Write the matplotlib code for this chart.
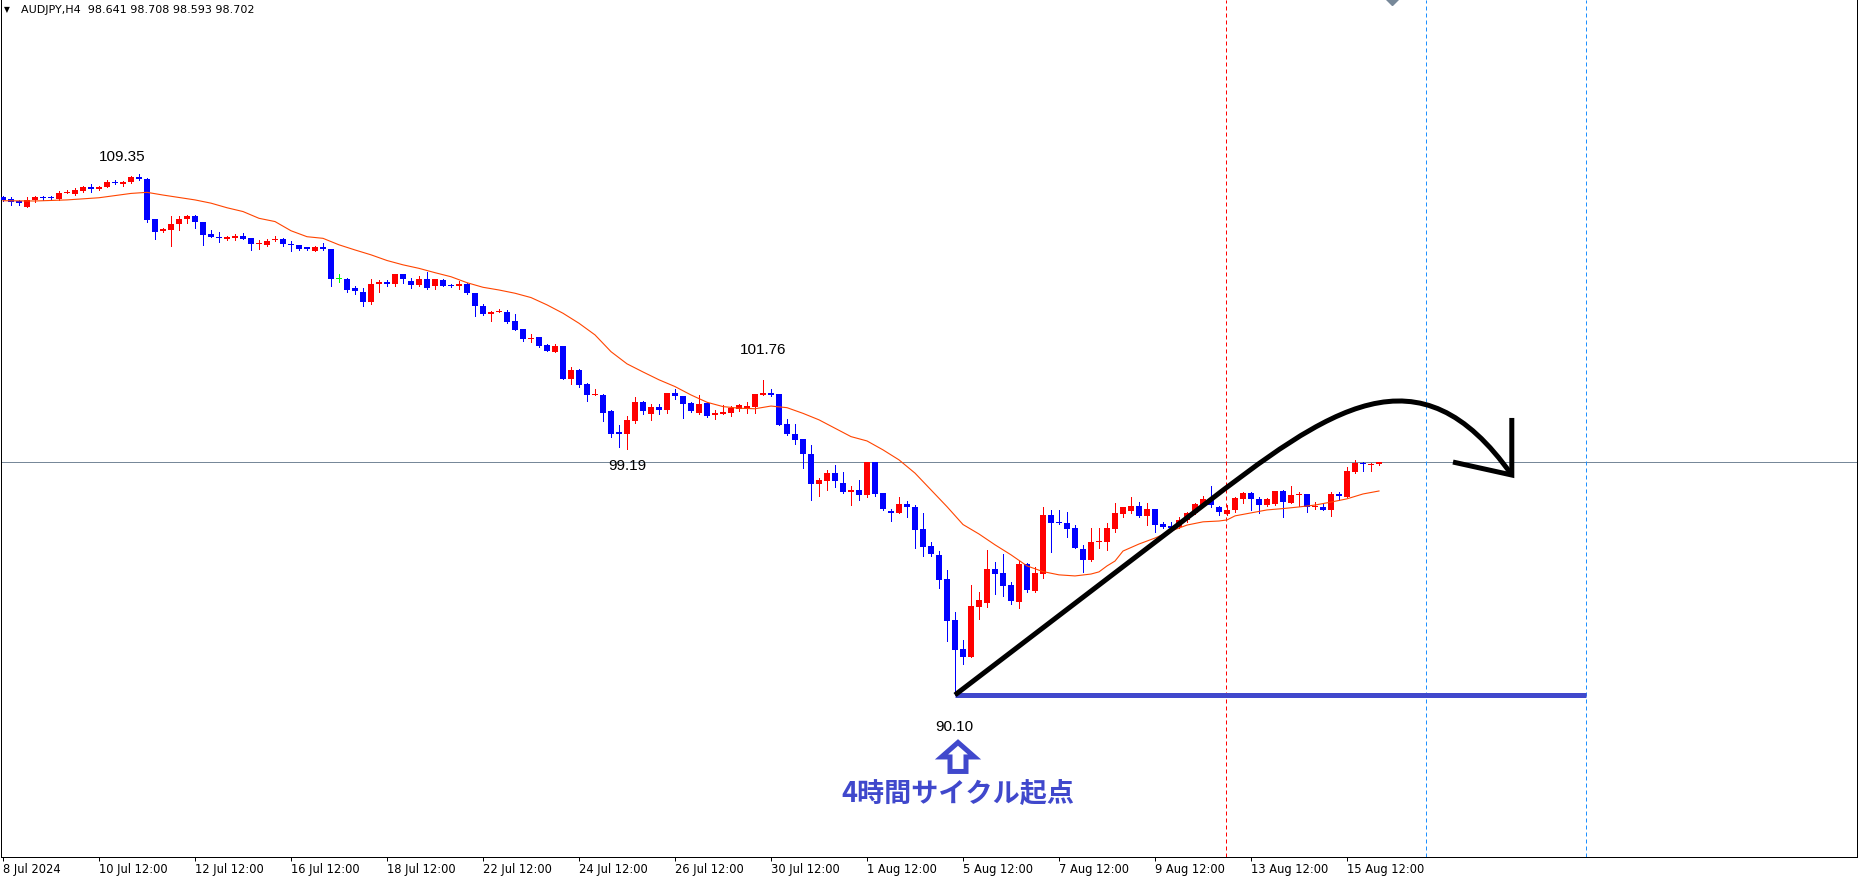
import matplotlib
matplotlib.use("Agg")
import matplotlib.pyplot as plt
import numpy as np
from matplotlib.patches import Polygon, PathPatch
from matplotlib.path import Path
from matplotlib.transforms import Affine2D, ScaledTranslation

# AUDJPY H4 candles (bar 0 = leftmost candle)
opens = [108.50, 108.42, 108.35, 108.15, 108.38, 108.51, 108.49, 108.44, 108.65, 108.62,
         108.73, 108.89, 108.82, 108.89, 109.07, 108.98, 109.05, 109.24, 109.16, 107.70,
         107.25, 107.27, 107.50, 107.69, 107.81, 107.59, 107.14, 107.02, 106.95, 107.00,
         107.08, 107.00, 106.76, 106.74, 106.90, 106.95, 106.76, 106.72, 106.65, 106.51,
         106.65, 106.59, 105.48, 105.48, 105.13, 105.01, 104.62, 105.28, 105.38, 105.31,
         105.66, 105.41, 105.26, 105.48, 105.20, 105.44, 105.27, 105.20, 105.31, 104.95,
         104.49, 104.19, 104.25, 104.24, 103.94, 103.62, 103.27, 103.32, 103.05, 102.79,
         103.00, 101.77, 102.12, 101.60, 101.17, 101.17, 100.58, 99.80, 99.75, 100.24,
         100.94, 100.49, 100.75, 100.64, 101.26, 101.15, 100.91, 100.51, 100.88, 100.44,
         100.49, 100.51, 100.67, 100.66, 100.76, 101.20, 101.26, 101.23, 100.12, 99.75,
         99.56, 99.01, 97.90, 98.02, 98.32, 97.94, 97.60, 97.68, 97.49, 98.73,
         97.58, 96.90, 96.84, 97.16, 97.06, 96.24, 95.61, 95.28, 94.39, 92.87,
         91.80, 91.52, 93.37, 93.51, 94.76, 94.62, 94.17, 93.55, 94.94, 93.96,
         94.57, 96.75, 96.50, 96.47, 96.27, 95.50, 95.09, 95.74, 95.77, 96.23,
         96.79, 96.90, 97.09, 96.72, 96.96, 96.41, 96.34, 96.32, 96.55, 96.82,
         97.12, 97.33, 97.03, 96.79, 96.92, 97.35, 97.58, 97.35, 97.12, 97.15,
         97.64, 97.21, 97.48, 97.53, 97.03, 97.06, 96.94, 97.54, 97.43, 98.33,
         98.69, 98.60, 98.641]
highs = [108.55, 108.50, 108.40, 108.50, 108.55, 108.55, 108.55, 108.73, 108.77, 108.83,
         108.92, 108.98, 108.93, 109.14, 109.14, 109.11, 109.30, 109.35, 109.21, 107.70,
         107.38, 107.81, 107.82, 107.85, 107.86, 107.59, 107.27, 107.20, 107.08, 107.14,
         107.19, 107.00, 106.92, 106.97, 107.07, 106.98, 106.87, 106.72, 106.65, 106.70,
         106.80, 106.60, 105.65, 105.50, 105.20, 105.13, 105.48, 105.44, 105.44, 105.66,
         105.66, 105.50, 105.59, 105.75, 105.49, 105.47, 105.30, 105.39, 105.34, 104.97,
         104.54, 104.30, 104.37, 104.33, 104.19, 103.62, 103.45, 103.35, 103.08, 103.08,
         103.00, 102.24, 102.15, 101.65, 101.40, 101.23, 100.64, 100.08, 100.41, 101.13,
         100.97, 100.86, 100.86, 101.27, 101.40, 101.15, 100.93, 101.19, 100.93, 100.64,
         100.81, 100.78, 100.86, 100.94, 101.23, 101.76, 101.40, 101.23, 100.29, 100.12,
         99.56, 99.34, 98.11, 98.42, 98.60, 98.34, 97.84, 98.05, 98.73, 98.73,
         97.58, 96.98, 97.43, 97.27, 97.12, 96.82, 95.76, 95.42, 94.72, 93.16,
         92.13, 94.17, 93.92, 95.46, 95.03, 95.30, 94.29, 95.07, 94.99, 94.84,
         97.06, 96.94, 96.94, 96.87, 96.39, 95.65, 96.26, 96.26, 96.45, 97.19,
         97.06, 97.43, 97.25, 97.19, 96.96, 96.51, 96.51, 96.67, 96.88, 97.21,
         97.46, 97.83, 97.09, 97.12, 97.43, 97.62, 97.62, 97.41, 97.37, 97.64,
         97.68, 97.83, 97.62, 97.53, 97.25, 97.19, 97.59, 97.59, 98.54, 98.79,
         98.71, 98.66, 98.708]
lows = [108.36, 108.20, 108.20, 108.15, 108.34, 108.40, 108.40, 108.40, 108.65, 108.58,
        108.71, 108.71, 108.77, 108.87, 108.98, 108.93, 109.04, 109.13, 107.60, 106.95,
        107.20, 106.71, 107.29, 107.56, 107.38, 106.72, 107.02, 106.84, 106.91, 106.92,
        106.97, 106.55, 106.60, 106.70, 106.88, 106.70, 106.50, 106.54, 106.55, 106.50,
        106.55, 105.23, 105.38, 105.01, 104.93, 104.48, 104.56, 105.01, 105.20, 105.23,
        105.34, 105.16, 105.23, 105.12, 105.11, 105.20, 105.17, 105.12, 104.93, 104.11,
        104.15, 103.93, 104.25, 103.84, 103.59, 103.20, 103.16, 102.98, 102.83, 102.79,
        101.77, 101.60, 101.50, 100.98, 101.17, 100.24, 99.65, 99.26, 99.19, 100.14,
        100.48, 100.27, 100.48, 100.54, 101.03, 100.35, 100.55, 100.49, 100.36, 100.30,
        100.49, 100.41, 100.61, 100.54, 100.54, 101.18, 101.15, 100.08, 99.71, 99.38,
        98.50, 97.31, 97.46, 97.68, 97.78, 97.58, 97.12, 97.31, 97.40, 97.46,
        96.94, 96.53, 96.84, 96.67, 95.52, 95.24, 95.24, 94.07, 92.10, 90.10,
        91.25, 91.50, 92.91, 93.37, 93.83, 93.74, 93.46, 93.33, 93.92, 93.92,
        94.41, 95.40, 96.42, 95.95, 95.53, 94.66, 95.07, 95.52, 95.46, 96.14,
        96.69, 96.84, 96.67, 96.39, 96.14, 96.26, 96.29, 96.26, 96.51, 96.79,
        97.09, 97.06, 96.75, 96.75, 96.88, 97.19, 96.94, 96.82, 97.09, 97.12,
        96.69, 97.19, 97.09, 96.88, 96.96, 96.92, 96.72, 97.29, 97.41, 98.32,
        98.39, 98.39, 98.593]
closes = [108.40, 108.33, 108.28, 108.38, 108.50, 108.46, 108.46, 108.65, 108.68, 108.77,
          108.88, 108.81, 108.89, 109.08, 109.04, 109.08, 109.26, 109.16, 107.66, 107.23,
          107.32, 107.50, 107.70, 107.81, 107.57, 107.11, 107.03, 106.98, 107.04, 107.07,
          106.97, 106.76, 106.80, 106.88, 106.96, 106.76, 106.72, 106.60, 106.59, 106.65,
          106.58, 105.47, 105.48, 105.07, 105.05, 104.64, 105.29, 105.38, 105.31, 105.66,
          105.47, 105.26, 105.48, 105.16, 105.48, 105.23, 105.20, 105.31, 104.95, 104.46,
          104.17, 104.26, 104.28, 103.90, 103.59, 103.26, 103.30, 103.01, 102.83, 103.00,
          101.77, 102.12, 101.56, 101.18, 101.24, 100.54, 99.75, 99.77, 100.27, 100.92,
          100.58, 100.75, 100.64, 101.26, 101.14, 100.87, 100.60, 100.86, 100.43, 100.54,
          100.57, 100.69, 100.83, 100.78, 101.23, 101.28, 101.20, 100.08, 99.75, 99.53,
          99.01, 97.90, 98.05, 98.32, 98.02, 97.60, 97.68, 97.51, 98.73, 97.53,
          96.98, 96.84, 97.16, 97.03, 96.20, 95.58, 95.31, 94.35, 92.85, 91.76,
          91.52, 93.39, 93.61, 94.76, 94.57, 94.14, 93.58, 94.94, 93.98, 94.62,
          96.75, 96.47, 96.45, 96.25, 95.53, 95.09, 95.77, 95.79, 96.26, 96.84,
          97.03, 97.09, 96.72, 96.96, 96.39, 96.32, 96.29, 96.57, 96.84, 97.16,
          97.33, 97.12, 96.88, 96.94, 97.37, 97.56, 97.33, 97.12, 97.33, 97.64,
          97.25, 97.49, 97.53, 97.06, 97.10, 96.94, 97.53, 97.46, 98.38, 98.66,
          98.64, 98.63, 98.702]

# moving average (orange line)
ma_bars = [0, 4, 8, 10, 12, 14, 16, 18, 20, 24, 26, 28, 30, 32, 34, 36, 38, 40, 42, 44,
           46, 48, 50, 52, 54, 56, 58, 60, 62, 64, 66, 68, 70, 72, 74, 76, 78, 80, 82, 84,
           86, 88, 90, 92, 94, 96, 98, 100, 102, 104, 106, 108, 110, 112, 114, 116, 118, 120,
           122, 124, 126, 128, 130, 132, 134, 136, 137, 138, 139, 140, 142, 144, 146, 148,
           150, 152, 153, 154, 156, 158, 160, 162, 164, 166, 168, 170, 172]
ma_values = [108.37, 108.36, 108.40, 108.44, 108.48, 108.56, 108.64, 108.68, 108.58, 108.40,
             108.28, 108.11, 107.97, 107.72, 107.60, 107.26, 107.04, 106.98, 106.74, 106.55,
             106.37, 106.16, 106.00, 105.87, 105.71, 105.56, 105.34, 105.17, 105.07, 104.95,
             104.79, 104.52, 104.21, 103.84, 103.41, 102.79, 102.34, 102.04, 101.75, 101.50,
             101.19, 100.92, 100.76, 100.70, 100.68, 100.78, 100.72, 100.51, 100.27, 99.96,
             99.65, 99.49, 99.16, 98.79, 98.30, 97.68, 97.06, 96.40, 96.05, 95.65,
             95.28, 94.87, 94.66, 94.54, 94.50, 94.57, 94.65, 94.87, 95.05, 95.42,
             95.68, 95.90, 96.16, 96.38, 96.50, 96.53, 96.57, 96.72, 96.83, 96.94,
             96.99, 97.05, 97.12, 97.23, 97.35, 97.53, 97.64]

tick_bars = [0, 12, 24, 36, 48, 60, 72, 84, 96, 108, 120, 132, 144, 156, 168]
tick_labels = ["8 Jul 2024", "10 Jul 12:00", "12 Jul 12:00", "16 Jul 12:00", "18 Jul 12:00",
               "22 Jul 12:00", "24 Jul 12:00", "26 Jul 12:00", "30 Jul 12:00", "1 Aug 12:00",
               "5 Aug 12:00", "7 Aug 12:00", "9 Aug 12:00", "13 Aug 12:00", "15 Aug 12:00"]

low_bar = 119
low_price = 90.10

BLUE = "#4048cc"
PX = 0.72  # one pixel in points at dpi 100

fig = plt.figure(figsize=(18.6, 8.8), dpi=100)
ax = fig.add_axes([1 / 1860, 23 / 880, 1856 / 1860, 857 / 880])
ax.set_xlim(-0.25, 231.75)
ax.set_ylim(84.11, 115.79)

o = np.array(opens); h = np.array(highs); l = np.array(lows); c = np.array(closes)
x = np.arange(len(o))
cols = np.where(c > o, "#ff0000", np.where(c < o, "#0000ff", "#00ff00"))

# current price line
ax.axhline(closes[-1], color="#778899", lw=PX, zorder=1)

# candles
ax.vlines(x, l, h, colors=cols, lw=PX, antialiased=False, zorder=3)
body = np.abs(c - o)
hgt = np.maximum(body, 0.04)
ax.bar(x, hgt, bottom=np.minimum(o, c) - (hgt - body) / 2, width=0.66, color=cols,
       linewidth=0, antialiased=False, zorder=3)

# moving average
ax.plot(ma_bars, ma_values, color="#ff4500", lw=0.8, zorder=4)

# period separators
ax.axvline(152.9, color="#ff0000", lw=PX, ls=(0, (4, 3)), zorder=2)
for vx in (177.9, 197.9):
    ax.axvline(vx, color="#1e90ff", lw=PX, ls=(0, (4, 3)), zorder=2)

# drawn annotations: horizontal support from the low, up-trend and curved arrow
ax.hlines(low_price, low_bar, 197.9, color=BLUE, lw=5 * PX, zorder=5)
path = Path([(low_bar, low_price), (149.6, 97.01), (165.8, 100.70), (177.0, 103.10), (188.6, 98.23)],
            [Path.MOVETO, Path.LINETO, Path.CURVE4, Path.CURVE4, Path.CURVE4])
ax.add_patch(PathPatch(path, fill=False, ec="black", lw=5 * PX, capstyle="butt", zorder=6))
ax.plot([188.6, 188.6, 181.25], [100.34, 98.23, 98.71], color="black", lw=5 * PX,
        solid_joinstyle="miter", solid_capstyle="butt", zorder=6)

# hollow up-arrow under the low (pixel offsets from the low point)
arrow_px = [(3, 47.5), (19.5, 62), (11, 62), (11, 76.5), (-5, 76.5), (-5, 62), (-13.5, 62)]
trans = Affine2D().scale(1, -1) + ScaledTranslation(low_bar, low_price, ax.transData)
ax.add_patch(Polygon(arrow_px, closed=True, fill=False, ec=BLUE, lw=5 * PX,
                     joinstyle="miter", transform=trans, zorder=6))

# price labels
lab = dict(fontsize=11, family="Liberation Sans", ha="center", va="center", zorder=7)
ax.text(14.9, 110.00, "109.35", **lab)
ax.text(95.0, 102.86, "101.76", **lab)
ax.text(78.0, 98.57, "99.19", **lab)
ax.text(118.9, 88.92, "90.10", **lab)
ax.text(119.4, 86.45, "4時間サイクル起点", fontsize=19.5, fontweight="bold", color=BLUE,
        family=["Noto Sans CJK JP", "DejaVu Sans"], ha="center", va="center", zorder=7)

# small grey object marker cut by the top edge
ax.plot([173.6], [115.83], marker="D", ms=6, color="#778899", zorder=7)

# axes styling
ax.spines["top"].set_visible(False)
for s in ("left", "right", "bottom"):
    ax.spines[s].set_linewidth(PX)
ax.set_yticks([])
ax.set_xticks(tick_bars)
ax.set_xticklabels(tick_labels, ha="left", fontsize=8.3, family="DejaVu Sans")
ax.tick_params(axis="x", length=3, width=PX, pad=1.5, direction="out")

header = f"AUDJPY,H4  {opens[-1]:.3f} {highs[-1]:.3f} {lows[-1]:.3f} {closes[-1]:.3f}"
fig.text(7 / 1860, 1 - 10 / 880, "▼", fontsize=5.5, ha="center", va="center")
fig.text(21 / 1860, 1 - 10 / 880, header, fontsize=8, va="center")

fig.savefig("out.png", dpi=100)
